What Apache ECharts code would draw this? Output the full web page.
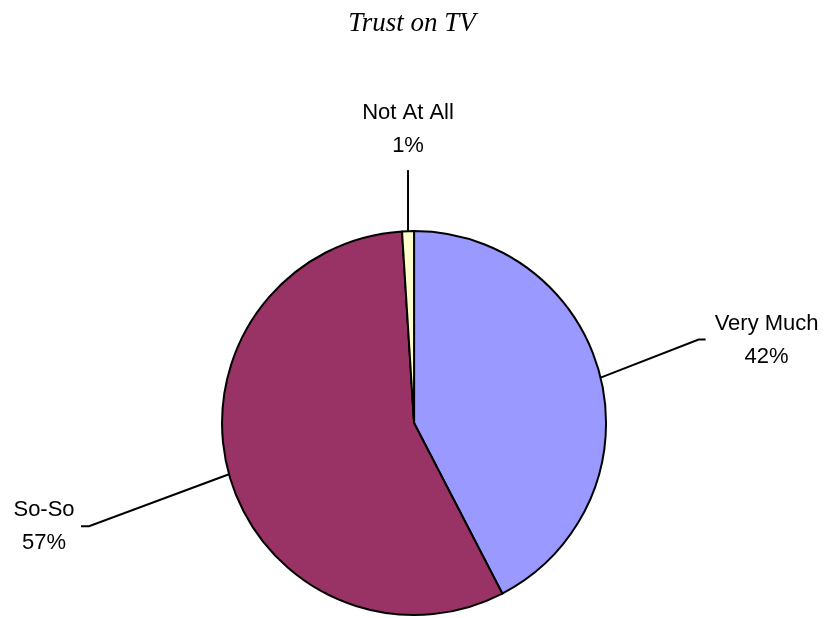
<!DOCTYPE html>
<html>
<head>
<meta charset="utf-8">
<script src="https://cdn.jsdelivr.net/npm/echarts@6/dist/echarts.min.js"></script>
<style>
html,body{margin:0;padding:0;background:#fff;}
#chart{width:824px;height:618px;}
</style>
</head>
<body>
<div id="chart"></div>
<script>
const titleText = 'Trust on TV';
const categories = ['Very Much', 'So-So', 'Not At All'];
const values = [42.4, 56.6, 1.0];
const colors = ['#9999FF', '#993366', '#FFFFCC'];

// leader line geometry per slice: [bend dx, bend dy, tail dx, label dx, label dy]
const leader = [
  [98, -38, 7, 61, 1],
  [-140, 52, -8, -37, 0],
  [0, -61, 0, 0, -41]
];

const total = values.reduce((a, b) => a + b, 0);
const chart = echarts.init(document.getElementById('chart'));
chart.setOption({
  animation: false,
  backgroundColor: '#ffffff',
  title: {
    text: titleText,
    left: 'center',
    top: 5,
    textStyle: {
      fontFamily: 'Liberation Serif',
      fontStyle: 'italic',
      fontWeight: 'normal',
      fontSize: 27,
      color: '#000'
    }
  },
  series: [{
    type: 'pie',
    center: ['50.25%', '68.45%'],
    radius: 192,
    startAngle: 90,
    clockwise: true,
    avoidLabelOverlap: false,
    data: categories.map((c, i) => ({
      name: c,
      value: values[i],
      itemStyle: { color: colors[i] }
    })),
    itemStyle: { borderColor: '#000', borderWidth: 2 },
    label: {
      show: true,
      position: 'outside',
      formatter: p => p.name + '\n' + Math.round(p.value / total * 100) + '%',
      fontFamily: 'Liberation Sans',
      fontSize: 22,
      lineHeight: 33,
      color: '#000',
      align: 'center'
    },
    labelLine: {
      show: true,
      length: 20,
      length2: 10,
      lineStyle: { color: '#000', width: 2 }
    },
    labelLayout: function (params) {
      const i = params.dataIndex;
      const pts = params.labelLinePoints;
      if (!pts) return {};
      const s = pts[0];
      const g = leader[i];
      const b = [s[0] + g[0], s[1] + g[1]];
      const e = [b[0] + g[2], b[1]];
      return {
        x: e[0] + g[3],
        y: e[1] + g[4],
        align: 'center',
        verticalAlign: 'middle',
        labelLinePoints: [s, b, e]
      };
    },
    emphasis: { disabled: true }
  }]
});
</script>
</body>
</html>
